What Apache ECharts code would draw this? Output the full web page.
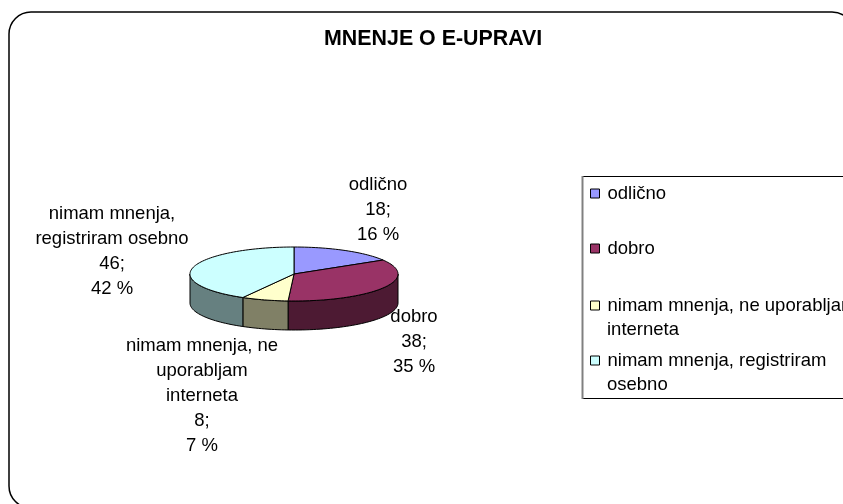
<!DOCTYPE html>
<html>
<head>
<meta charset="utf-8">
<style>html,body{margin:0;padding:0;background:#fff}#chart{width:843px;height:504px}</style>
<script src="https://cdn.jsdelivr.net/npm/echarts@6/dist/echarts.min.js"></script>
</head>
<body>
<div id="chart"></div>
<script>
const categories = ['odlično', 'dobro', 'nimam mnenja, ne uporabljam interneta', 'nimam mnenja, registriram osebno'];
const values = [18, 38, 8, 46];
const topColors = ['#9999FF', '#993366', '#FFFFCC', '#CCFFFF'];
const wallColors = ['#4D4D80', '#4D1A33', '#808066', '#668080'];
const labelLines = [['odlično'], ['dobro'], ['nimam mnenja, ne', 'uporabljam', 'interneta'], ['nimam mnenja,', 'registriram osebno']];
const labelCenters = [[378, 185], [414, 317], [202, 346], [112, 214]];
const legendFirstLines = ['odlično', 'dobro', 'nimam mnenja, ne uporabljam', 'nimam mnenja, registriram'];
const legendSecondLines = ['', '', 'interneta', 'osebno'];
const legendTops = [184, 239, 296, 351];

const FONT = '"Liberation Sans", Arial, sans-serif';
const FONT_SIZE = 18.5;
const LINE_H = 25;
const pie = { cx: 294, cy: 274, rx: 104, ry: 27, depth: 29 };
const total = values.reduce((a, b) => a + b, 0);

function pt(deg, dy) {
    const r = deg * Math.PI / 180;
    return [pie.cx + pie.rx * Math.sin(r), pie.cy - pie.ry * Math.cos(r) + (dy || 0)];
}

function arc(from, to, dy) {
    const pts = [];
    const n = Math.max(2, Math.ceil(Math.abs(to - from) / 2));
    for (let i = 0; i <= n; i++) pts.push(pt(from + (to - from) * i / n, dy));
    return pts;
}

function renderSlice(idx, params, api) {
    const start = values.slice(0, idx).reduce((a, b) => a + b, 0) / total * 360;
    const end = start + api.value(0) / total * 360;
    const children = [];
    const stroke = { stroke: '#000', lineWidth: 1 };

    // outer wall, only the part facing the viewer
    const wallFrom = Math.max(start, 90), wallTo = Math.min(end, 270);
    if (wallTo > wallFrom) {
        const wall = arc(wallFrom, wallTo, 0).concat(arc(wallTo, wallFrom, pie.depth));
        children.push({ type: 'polygon', z2: 1, shape: { points: wall }, style: { fill: wallColors[idx], ...stroke } });
    }
    const top = [[pie.cx, pie.cy]].concat(arc(start, end, 0));
    children.push({ type: 'polygon', z2: 2, shape: { points: top }, style: { fill: topColors[idx], ...stroke } });

    // data label: name, value, percent
    const pct = Math.round(api.value(0) / total * 100);
    const lines = labelLines[idx].concat([api.value(0) + ';', pct + ' %']);
    lines.forEach((line, i) => {
        children.push({
            type: 'text', z2: 5,
            style: {
                text: line, x: labelCenters[idx][0], y: labelCenters[idx][1] + i * LINE_H,
                align: 'center', verticalAlign: 'middle',
                font: FONT_SIZE + 'px ' + FONT, fill: '#000'
            }
        });
    });
    return { type: 'group', children };
}

const chart = echarts.init(document.getElementById('chart'), null, { renderer: 'canvas' });

chart.setOption({
    animation: false,
    title: {
        text: 'MNENJE O E-UPRAVI', left: 319, top: 24,
        textStyle: { fontFamily: FONT, fontSize: 21.4, fontWeight: 'bold', color: '#000' }
    },
    legend: categories.map((name, i) => ({
        left: 590, top: legendTops[i], padding: 0, orient: 'vertical',
        itemWidth: 9, itemHeight: 9, icon: 'rect', selectedMode: false,
        z: 3,
        data: [{ name, itemStyle: { color: topColors[i], borderColor: '#000', borderWidth: 1 } }],
        formatter: () => legendFirstLines[i],
        textStyle: { fontFamily: FONT, fontSize: FONT_SIZE, color: '#000', padding: [0, 0, 0, 3] }
    })),
    graphic: [
        { type: 'rect', z: -2, silent: true, shape: { x: 9, y: 12, width: 845, height: 496, r: 22 }, style: { fill: '#fff', stroke: '#000', lineWidth: 1.5 } },
        { type: 'rect', z: -1, silent: true, shape: { x: 582.5, y: 176.5, width: 300, height: 222 }, style: { fill: '#fff', stroke: '#000', lineWidth: 1 } },
        { type: 'line', z: -1, silent: true, shape: { x1: 582.5, y1: 176, x2: 582.5, y2: 399 }, style: { stroke: '#808080', lineWidth: 2 } }
    ].concat(legendSecondLines.map((text, i) => ({
        type: 'text', z: 3, silent: true, left: 607, top: legendTops[i] + 24,
        style: { text, font: FONT_SIZE + 'px ' + FONT, fill: '#000' }
    }))),
    series: categories.map((name, i) => ({
        type: 'custom', name, coordinateSystem: 'none', silent: true,
        itemStyle: { color: topColors[i] },
        data: [[values[i]]],
        renderItem: (params, api) => renderSlice(i, params, api)
    }))
});
</script>
</body>
</html>
